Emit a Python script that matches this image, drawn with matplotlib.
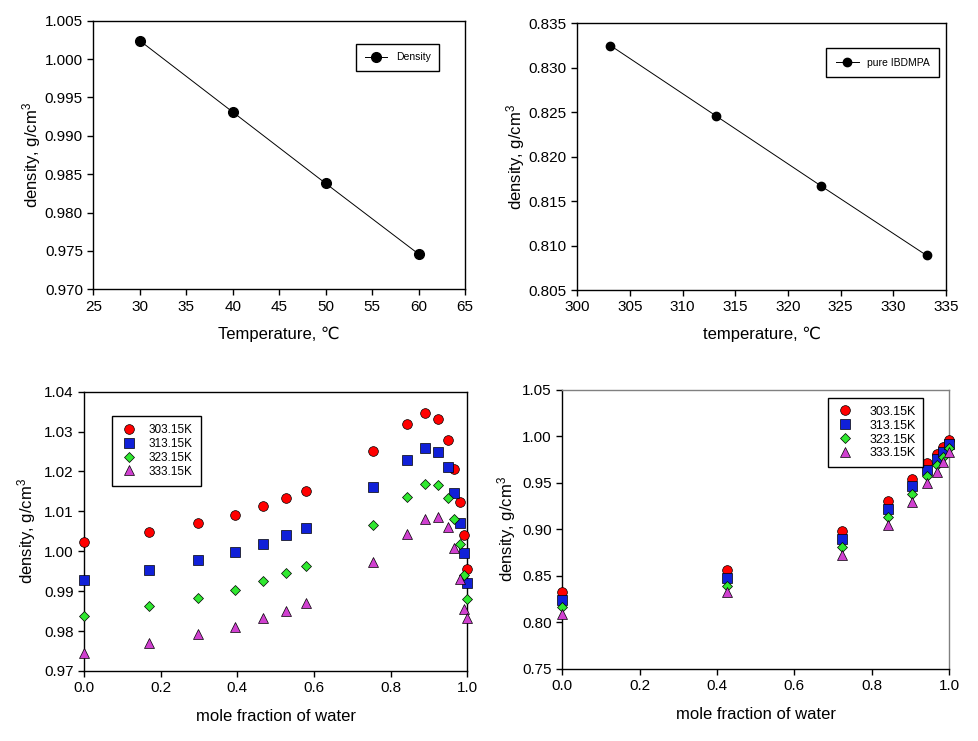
import matplotlib
matplotlib.use("Agg")
import matplotlib.pyplot as plt
from matplotlib.ticker import FormatStrFormatter, MultipleLocator

plt.rcParams['font.family'] = ['Liberation Sans', 'DejaVu Sans']
plt.rcParams['mathtext.default'] = 'regular'

# ---- data ----
temp_c = [30, 40, 50, 60]
dens_water = [1.0024, 0.9931, 0.9838, 0.9746]

temp_k = [303.15, 313.15, 323.15, 333.15]
dens_ibdmpa = [0.8325, 0.8246, 0.8167, 0.8089]

series_labels = ['303.15K', '313.15K', '323.15K', '333.15K']

x_left = [0.0, 0.170, 0.296, 0.393, 0.467, 0.527, 0.579, 0.754, 0.842, 0.890,
          0.924, 0.949, 0.966, 0.981, 0.992, 1.0]
left_303 = [1.0023, 1.0049, 1.0072, 1.0091, 1.0113, 1.0133, 1.0152, 1.0252, 1.0320,
            1.0346, 1.0332, 1.0279, 1.0206, 1.0123, 1.0041, 0.9955]
left_313 = [0.9929, 0.9954, 0.9977, 0.9999, 1.0019, 1.0041, 1.0059, 1.0160, 1.0228,
            1.0258, 1.0250, 1.0210, 1.0145, 1.0070, 0.9996, 0.9921]
left_323 = [0.9837, 0.9862, 0.9884, 0.9903, 0.9925, 0.9945, 0.9964, 1.0066, 1.0136,
            1.0169, 1.0167, 1.0133, 1.0080, 1.0019, 0.9940, 0.9880]
left_333 = [0.9745, 0.9771, 0.9793, 0.9811, 0.9833, 0.9851, 0.9871, 0.9972, 1.0043,
            1.0080, 1.0085, 1.0060, 1.0007, 0.9930, 0.9855, 0.9833]

x_right = [0.0, 0.427, 0.7235, 0.841, 0.903, 0.942, 0.968, 0.985, 1.0]
right_303 = [0.8324, 0.8560, 0.8982, 0.9304, 0.9548, 0.9718, 0.9816, 0.9884, 0.9957]
right_313 = [0.8245, 0.8476, 0.8896, 0.9222, 0.9466, 0.9636, 0.9758, 0.9835, 0.9922]
right_323 = [0.8167, 0.8394, 0.8813, 0.9132, 0.9380, 0.9570, 0.9690, 0.9776, 0.9880]
right_333 = [0.8089, 0.8323, 0.8727, 0.9046, 0.9297, 0.9500, 0.9620, 0.9731, 0.9832]

# ---- styles ----
markers = ['o', 's', 'D', '^']
colors = ['#ff0000', '#1020d8', '#30e830', '#d040d0']
msizes = [7, 6.5, 5.5, 7]

fig = plt.figure(figsize=(9.79, 7.41), dpi=100)

ax1 = fig.add_axes([0.0953, 0.6096, 0.3797, 0.3625])
ax2 = fig.add_axes([0.5897, 0.6086, 0.3766, 0.3599])
ax3 = fig.add_axes([0.0858, 0.0945, 0.3917, 0.3769])
ax4 = fig.add_axes([0.5744, 0.0972, 0.3950, 0.3765])

TICK_FS = 11
LABEL_FS = 12

def style(ax):
    ax.tick_params(direction='out', length=4, width=1, labelsize=TICK_FS,
                   top=False, right=False, colors='black')
    for s in ax.spines.values():
        s.set_linewidth(1.0)

# top-left
ax1.plot(temp_c, dens_water, '-o', color='black', lw=0.7, ms=7, label='Density')
ax1.set_xlim(25, 65)
ax1.set_ylim(0.970, 1.005)
ax1.xaxis.set_major_locator(MultipleLocator(5))
ax1.yaxis.set_major_locator(MultipleLocator(0.005))
ax1.yaxis.set_major_formatter(FormatStrFormatter('%.3f'))
ax1.set_xlabel('Temperature, ℃', fontsize=LABEL_FS, labelpad=9)
ax1.set_ylabel('density, g/cm$^3$', fontsize=LABEL_FS, labelpad=1)
style(ax1)
leg = ax1.legend(loc='upper right', bbox_to_anchor=(0.93, 0.913), borderaxespad=0,
                 fancybox=False, edgecolor='black', framealpha=1, fontsize=7.5,
                 handlelength=2.2, borderpad=0.8)
leg.get_frame().set_linewidth(1.0)

# top-right
ax2.plot(temp_k, dens_ibdmpa, '-o', color='black', lw=0.7, ms=6, label='pure IBDMPA')
ax2.set_xlim(300, 335)
ax2.set_ylim(0.805, 0.835)
ax2.xaxis.set_major_locator(MultipleLocator(5))
ax2.yaxis.set_major_locator(MultipleLocator(0.005))
ax2.yaxis.set_major_formatter(FormatStrFormatter('%.3f'))
ax2.set_xlabel('temperature, ℃', fontsize=LABEL_FS, labelpad=9)
ax2.set_ylabel('density, g/cm$^3$', fontsize=LABEL_FS, labelpad=1)
style(ax2)
leg = ax2.legend(loc='upper right', bbox_to_anchor=(0.981, 0.907), borderaxespad=0,
                 fancybox=False, edgecolor='black', framealpha=1, fontsize=7.5,
                 handlelength=2.2, borderpad=0.9)
leg.get_frame().set_linewidth(1.0)

# bottom-left
left_series = [left_303, left_313, left_323, left_333]
for ys, m, c, ms, lab in zip(left_series, markers, colors, msizes, series_labels):
    ax3.plot(x_left, ys, linestyle='none', marker=m, color=c, mec='black', mew=0.5,
             ms=ms, label=lab, clip_on=False, zorder=3)
ax3.set_xlim(0.0, 1.0)
ax3.set_ylim(0.97, 1.04)
ax3.xaxis.set_major_locator(MultipleLocator(0.2))
ax3.yaxis.set_major_locator(MultipleLocator(0.01))
ax3.xaxis.set_major_formatter(FormatStrFormatter('%.1f'))
ax3.yaxis.set_major_formatter(FormatStrFormatter('%.2f'))
ax3.set_xlabel('mole fraction of water', fontsize=LABEL_FS, labelpad=10)
ax3.set_ylabel('density, g/cm$^3$', fontsize=LABEL_FS, labelpad=4)
style(ax3)
leg = ax3.legend(loc='upper left', bbox_to_anchor=(0.074, 0.913), borderaxespad=0,
                 fancybox=False, edgecolor='black', framealpha=1, fontsize=8.5,
                 handletextpad=1.0, borderpad=0.7, labelspacing=0.15, handlelength=1.4)
leg.get_frame().set_linewidth(1.0)

# bottom-right
right_series = [right_303, right_313, right_323, right_333]
for ys, m, c, ms, lab in zip(right_series, markers, colors, msizes, series_labels):
    ax4.plot(x_right, ys, linestyle='none', marker=m, color=c, mec='black', mew=0.5,
             ms=ms, label=lab, clip_on=False, zorder=3)
ax4.set_xlim(0.0, 1.0)
ax4.set_ylim(0.75, 1.05)
ax4.xaxis.set_major_locator(MultipleLocator(0.2))
ax4.yaxis.set_major_locator(MultipleLocator(0.05))
ax4.xaxis.set_major_formatter(FormatStrFormatter('%.1f'))
ax4.yaxis.set_major_formatter(FormatStrFormatter('%.2f'))
ax4.set_xlabel('mole fraction of water', fontsize=LABEL_FS, labelpad=10)
ax4.set_ylabel('density, g/cm$^3$', fontsize=LABEL_FS, labelpad=3)
style(ax4)
ax4.spines['top'].set_color('#808080')
ax4.spines['right'].set_color('#808080')
leg = ax4.legend(loc='upper right', bbox_to_anchor=(0.9335, 0.97), borderaxespad=0,
                 fancybox=False, edgecolor='black', framealpha=1, fontsize=9,
                 handletextpad=1.2, borderpad=0.6, labelspacing=0.15, handlelength=1.5)
leg.get_frame().set_linewidth(1.0)

fig.savefig('out.png', dpi=100)
